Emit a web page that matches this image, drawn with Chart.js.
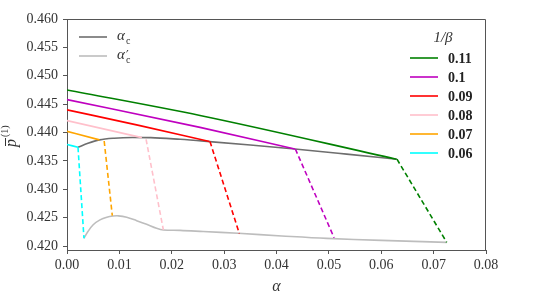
<!DOCTYPE html>
<html>
<head>
<meta charset="utf-8">
<script src="https://cdn.jsdelivr.net/npm/chart.js@4"></script>
<style>
  body { margin: 0; background: #fff; }
  canvas { display: block; }
</style>
</head>
<body>
<canvas id="myChart" width="540" height="300"></canvas>
<script>
// values
const betaLabels = ['0.11', '0.1', '0.09', '0.08', '0.07', '0.06'];

// solid lines, alpha from 0 up to alpha_c
const solidA = [
    [0, 0.0254, 0.0629],
    [0, 0.0254, 0.0435],
    [0, 0.0135, 0.0272],
    [0, 0.0143],
    [0, 0.0062],
    [0, 0.0021]
];
const solidP = [
    [0.4475, 0.4430, 0.4353],
    [0.4458, 0.4409, 0.4371],
    [0.4440, 0.4413, 0.4384],
    [0.4421, 0.4391],
    [0.4402, 0.4387],
    [0.4379, 0.4374]
];

// dashed parts, alpha_c down to alpha_c'
const dashA = [
    [0.0630, 0.0725],
    [0.0436, 0.0510],
    [0.0273, 0.0329],
    [0.0151, 0.0184],
    [0.0071, 0.00865],
    [0.0021, 0.00324]
];
const dashP = [
    [0.4353, 0.42065],
    [0.4371, 0.42145],
    [0.4384, 0.42222],
    [0.4388, 0.42283],
    [0.4385, 0.42535],
    [0.4374, 0.42136]
];

const critA = [0.0021, 0.0040, 0.0062, 0.0090, 0.0125, 0.0160, 0.0216, 0.0272, 0.0350, 0.0435, 0.0534, 0.0630];
const critP = [0.4374, 0.4381, 0.4387, 0.4390, 0.43912, 0.4391, 0.4388, 0.4384, 0.4378, 0.4371, 0.4362, 0.4353];

const critPrimeA = [0.00324, 0.0040, 0.0050, 0.0063, 0.0076, 0.0088, 0.0098, 0.0114, 0.0133,
    0.0152, 0.0171, 0.0184, 0.0216, 0.0260, 0.0327, 0.0410, 0.0496, 0.0600, 0.0725];
const critPrimeP = [0.42136, 0.42255, 0.42375, 0.42460, 0.42507, 0.42528, 0.42532, 0.42507, 0.42447,
    0.42383, 0.42313, 0.42283, 0.42275, 0.42255, 0.42224, 0.42178, 0.42135, 0.42100, 0.42065];

const xTicks = [0, 0.01, 0.02, 0.03, 0.04, 0.05, 0.06, 0.07, 0.08];
const yTicks = [0.420, 0.425, 0.430, 0.435, 0.440, 0.445, 0.450, 0.455, 0.460];

// styles
const lineColors = ['#008000', '#bf00bf', '#ff0000', '#ffc0cb', '#ffa500', '#00ffff'];
const critColor = '#6e6e6e';
const critPrimeColor = '#bdbdbd';
const axisColor = '#555555';
const textColor = '#333333';
const serif = "'Liberation Serif', 'DejaVu Serif', serif";

const pts = (a, p) => a.map((v, i) => ({ x: v, y: p[i] }));

const datasets = [];
betaLabels.forEach((lab, i) => {
    datasets.push({
        label: lab,
        data: pts(solidA[i], solidP[i]),
        borderColor: lineColors[i],
        borderWidth: 1.6,
        cubicInterpolationMode: 'monotone'
    });
    datasets.push({
        label: lab + ' dashed',
        data: pts(dashA[i], dashP[i]),
        borderColor: lineColors[i],
        borderWidth: 1.6,
        borderDash: [5, 3]
    });
});
datasets.push({
    label: 'alpha_c',
    data: pts(critA, critP),
    borderColor: critColor,
    borderWidth: 1.6,
    cubicInterpolationMode: 'monotone'
});
datasets.push({
    label: "alpha_c'",
    data: pts(critPrimeA, critPrimeP),
    borderColor: critPrimeColor,
    borderWidth: 1.6,
    tension: 0.35
});

// frame on top/right, both legends, y title
const extras = {
    id: 'extras',
    afterDraw(chart) {
        const { ctx, chartArea: a } = chart;
        ctx.save();
        ctx.strokeStyle = axisColor;
        ctx.lineWidth = 1;
        ctx.beginPath();
        ctx.moveTo(a.left, a.top + 0.5);
        ctx.lineTo(a.right - 0.5, a.top + 0.5);
        ctx.lineTo(a.right - 0.5, a.bottom);
        ctx.stroke();

        // y title: p with a bar and superscript (1)
        ctx.translate(16, 137);
        ctx.rotate(-Math.PI / 2);
        ctx.fillStyle = textColor;
        ctx.strokeStyle = textColor;
        ctx.textBaseline = 'alphabetic';
        ctx.textAlign = 'left';
        ctx.font = 'italic 16px ' + serif;
        ctx.fillText('p', -10, 0);
        ctx.lineWidth = 1;
        ctx.beginPath();
        ctx.moveTo(-9, -10.5);
        ctx.lineTo(-1, -10.5);
        ctx.stroke();
        ctx.font = '10px ' + serif;
        ctx.fillText('(1)', 0, -8);
        ctx.setTransform(1, 0, 0, 1, 0, 0);

        // left legend
        ctx.lineWidth = 1.6;
        const leftRows = [[critColor, 37, false], [critPrimeColor, 56, true]];
        leftRows.forEach(([c, y, prime]) => {
            ctx.strokeStyle = c;
            ctx.beginPath();
            ctx.moveTo(79, y);
            ctx.lineTo(107, y);
            ctx.stroke();
            ctx.fillStyle = textColor;
            ctx.textBaseline = 'middle';
            ctx.font = 'italic 15px ' + serif;
            ctx.fillText('\u03b1', 117, y - 1);
            ctx.font = '10px ' + serif;
            ctx.fillText('c', 126, y + 4);
            if (prime) {
                ctx.textBaseline = 'alphabetic';
                ctx.font = "12px 'DejaVu Sans', sans-serif";
                ctx.fillText('\u2032', 126, y + 3);
            }
        });

        // right legend
        ctx.fillStyle = textColor;
        ctx.textAlign = 'center';
        ctx.textBaseline = 'middle';
        ctx.font = 'italic 15px ' + serif;
        ctx.fillText('1/\u03b2', 443, 38);
        ctx.textAlign = 'left';
        betaLabels.forEach((lab, i) => {
            const y = 58 + i * 19;
            ctx.strokeStyle = lineColors[i];
            ctx.beginPath();
            ctx.moveTo(410, y);
            ctx.lineTo(438, y);
            ctx.stroke();
            ctx.fillStyle = '#222';
            ctx.font = 'bold 14px ' + serif;
            ctx.fillText(lab, 448, y + 1);
        });
        ctx.restore();
    }
};

const myChart = new Chart(document.getElementById('myChart').getContext('2d'), {
    type: 'scatter',
    data: { datasets: datasets },
    options: {
        responsive: false,
        animation: false,
        showLine: true,
        elements: { point: { radius: 0, hoverRadius: 0 } },
        layout: { padding: { top: 19, right: 54, left: 0, bottom: 0 } },
        plugins: { legend: { display: false }, tooltip: { enabled: false } },
        scales: {
            x: {
                type: 'linear',
                min: 0,
                max: 0.08,
                afterFit: s => { s.height = 50; },
                afterBuildTicks: s => { s.ticks = xTicks.map(v => ({ value: v })); },
                ticks: {
                    color: textColor,
                    font: { family: serif, size: 14 },
                    padding: 3,
                    maxRotation: 0,
                    callback: v => v.toFixed(2)
                },
                grid: { drawOnChartArea: false, drawTicks: true, tickLength: 4, color: axisColor },
                border: { color: axisColor, width: 1 },
                title: {
                    display: true,
                    text: '\u03b1',
                    color: textColor,
                    font: { family: serif, size: 16, style: 'italic' },
                    padding: { top: 0, bottom: 4 }
                }
            },
            y: {
                type: 'linear',
                min: 0.4193,
                max: 0.460,
                afterFit: s => { s.width = 67; },
                afterBuildTicks: s => { s.ticks = yTicks.map(v => ({ value: v })); },
                ticks: {
                    color: textColor,
                    font: { family: serif, size: 14 },
                    padding: 5,
                    callback: v => v.toFixed(3)
                },
                grid: { drawOnChartArea: false, drawTicks: true, tickLength: 4, color: axisColor },
                border: { color: axisColor, width: 1 }
            }
        }
    },
    plugins: [extras]
});
</script>
</body>
</html>
